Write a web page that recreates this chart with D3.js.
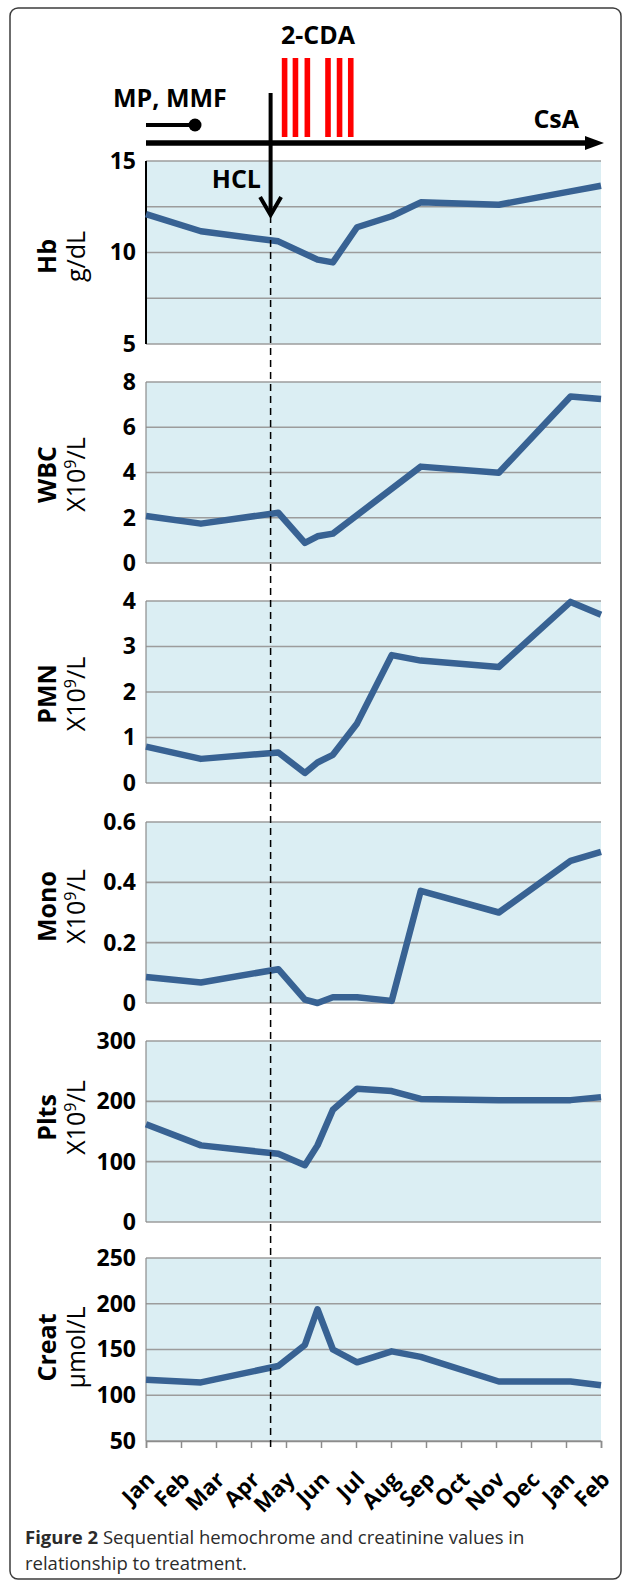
<!DOCTYPE html>
<html>
<head>
<meta charset="utf-8">
<script src="https://cdn.jsdelivr.net/npm/d3@7"></script>
<style>
  body { margin: 0; background: #fff; }
  text { font-family: "Open Sans", sans-serif; }
</style>
</head>
<body>
<div id="chart"></div>
<script>
// month ticks along the bottom (Jan of year 1 .. Feb of year 2)
const months = ["Jan", "Feb", "Mar", "Apr", "May", "Jun", "Jul", "Aug", "Sep", "Oct", "Nov", "Dec", "Jan", "Feb"];

// sampling dates, as months after the first Jan
const sampleMonth = [0, 1.57, 3.78, 4.54, 4.9, 5.34, 6.03, 7.02, 7.85, 10.08, 12.13, 13];

// lab values (null = no value that day)
const hb    = [12.1, 11.16, 10.61, null, 9.61, 9.46, 11.38, 11.98, 12.74, 12.61, 13.34, 13.65];
const wbc   = [2.08, 1.74, 2.22, 0.89, 1.18, 1.30, null, null, 4.26, 3.99, 7.36, 7.25];
const pmn   = [0.80, 0.53, 0.67, 0.22, 0.45, 0.62, 1.31, 2.81, 2.69, 2.55, 3.98, 3.70];
const mono  = [0.086, 0.068, 0.112, 0.011, 0.0, 0.019, 0.019, 0.007, 0.372, 0.30, 0.471, 0.501];
const plts  = [162, 127, 113, 94, 127, 186, 221, 217, 204, 202, 202, 207];
const creat = [117, 114, 132, 155, 194, 150, 136, 148, 142, 115, 115, 111];

const panelNames = ["Hb", "WBC", "PMN", "Mono", "Plts", "Creat"];
const panelUnits = ["g/dL", "X10|9|/L", "X10|9|/L", "X10|9|/L", "X10|9|/L", "µmol/L"];
const panelSeries = [hb, wbc, pmn, mono, plts, creat];
const yDomains = [[5, 15], [0, 8], [0, 4], [0, 0.6], [0, 300], [50, 250]];
const yLabels = [[5, 10, 15], [0, 2, 4, 6, 8], [0, 1, 2, 3, 4], [0, 0.2, 0.4, 0.6], [0, 100, 200, 300], [50, 100, 150, 200, 250]];
const yGrid = [[5, 7.5, 10, 12.5, 15], [0, 2, 4, 6, 8], [0, 1, 2, 3, 4], [0, 0.2, 0.4, 0.6], [0, 100, 200, 300], [50, 100, 150, 200, 250]];

// treatment timeline
const hclMonth = 3.56;
const mpEndMonth = 1.4;
const cdaDoses = [3.96, 4.27, 4.61, 5.20, 5.53, 5.85];

// layout
const svgWidth = 625;
const svgHeight = 1580;
const left = 146, right = 601;
const panelTop = [161, 382, 601, 822, 1041, 1258];
const panelH = [183, 181, 182, 181, 181, 183];
const titleShift = [4, 2, 2, -6, -14, -2];

const lineColor = "#386293";
const bgColor = "#dbeef3";
const gridColor = "#9c9c9c";

const svg = d3.select("#chart")
  .append("svg")
  .attr("width", svgWidth)
  .attr("height", svgHeight);

// frame
svg.append("rect")
  .attr("x", 10).attr("y", 8)
  .attr("width", 611).attr("height", 1571)
  .attr("rx", 8)
  .attr("fill", "none")
  .attr("stroke", "#3c3c3c")
  .attr("stroke-width", 1.5);

const x = d3.scaleLinear().domain([0, 13]).range([left, right]);

panelNames.forEach(function(name, i) {
  const top = panelTop[i];
  const h = panelH[i];
  const y = d3.scaleLinear().domain(yDomains[i]).range([top + h, top]);
  const g = svg.append("g");

  g.append("rect")
    .attr("x", left).attr("y", top)
    .attr("width", right - left).attr("height", h)
    .attr("fill", bgColor);

  g.selectAll(".grid")
    .data(yGrid[i]).enter()
    .append("line")
    .attr("x1", left).attr("x2", right)
    .attr("y1", d => y(d)).attr("y2", d => y(d))
    .attr("stroke", gridColor)
    .attr("stroke-width", 1.6);

  // left axis line: black on Hb, grey on the others
  g.append("line")
    .attr("x1", left).attr("x2", left)
    .attr("y1", top).attr("y2", top + h)
    .attr("stroke", i === 0 ? "#000" : "#8c8c8c")
    .attr("stroke-width", i === 0 ? 2 : 1.2);

  const leftAxis = d3.axisLeft(y)
    .tickValues(yLabels[i])
    .tickSize(0)
    .tickPadding(10)
    .tickFormat(d => String(d));

  const axisG = g.append("g")
    .attr("transform", `translate(${left},0)`)
    .call(leftAxis);
  axisG.select(".domain").remove();
  axisG.selectAll("text")
    .attr("font-family", "'Open Sans', sans-serif")
    .attr("font-size", 23)
    .attr("font-weight", "bold")
    .attr("fill", "#000");

  // axis titles
  const cy = top + h / 2 + titleShift[i];
  g.append("text")
    .attr("transform", `translate(56,${cy}) rotate(-90)`)
    .attr("text-anchor", "middle")
    .attr("font-size", 25)
    .attr("font-weight", "bold")
    .text(name);

  const unit = g.append("text")
    .attr("transform", `translate(85,${cy}) rotate(-90)`)
    .attr("text-anchor", "middle")
    .attr("font-size", 25);
  const parts = panelUnits[i].split("|");
  if (parts.length === 3) {
    unit.append("tspan").text(parts[0]);
    unit.append("tspan").attr("font-size", 16).attr("dy", -9).text(parts[1]);
    unit.append("tspan").attr("dy", 9).text(parts[2]);
  } else {
    unit.text(parts[0]);
  }

  const pts = sampleMonth
    .map((m, k) => ({ m: m, v: panelSeries[i][k] }))
    .filter(d => d.v !== null);

  const line = d3.line()
    .x(d => x(d.m))
    .y(d => y(d.v));

  g.append("path")
    .datum(pts)
    .attr("d", line)
    .attr("fill", "none")
    .attr("stroke", lineColor)
    .attr("stroke-width", 6.5)
    .attr("stroke-linejoin", "round");
});

// bottom axis under Creat
const axisY = panelTop[5] + panelH[5];
const bottomAxis = d3.axisBottom(x)
  .tickValues(d3.range(months.length))
  .tickSize(7)
  .tickFormat("");
const xAxisG = svg.append("g")
  .attr("transform", `translate(0,${axisY})`)
  .call(bottomAxis);
xAxisG.select(".domain").attr("stroke", "#8c8c8c").attr("stroke-width", 1.5);
xAxisG.selectAll(".tick line").attr("stroke", "#8c8c8c").attr("stroke-width", 1.5);

svg.selectAll(".month")
  .data(months).enter()
  .append("text")
  .attr("transform", (d, k) => `translate(${x(k) + 10},${axisY + 40}) rotate(-45)`)
  .attr("text-anchor", "end")
  .attr("font-size", 22)
  .attr("font-weight", "bold")
  .text(d => d);

// treatment timeline
const tlY = 143;
svg.append("line")
  .attr("x1", left).attr("x2", right - 14)
  .attr("y1", tlY).attr("y2", tlY)
  .attr("stroke", "#000").attr("stroke-width", 5.5);
svg.append("path")
  .attr("d", `M${right - 16},${tlY - 7}L${right + 3},${tlY}L${right - 16},${tlY + 7}Z`)
  .attr("fill", "#000");

svg.append("line")
  .attr("x1", left).attr("x2", x(mpEndMonth))
  .attr("y1", 125).attr("y2", 125)
  .attr("stroke", "#000").attr("stroke-width", 4);
svg.append("circle")
  .attr("cx", x(mpEndMonth)).attr("cy", 125)
  .attr("r", 6.5).attr("fill", "#000");

svg.selectAll(".dose")
  .data(cdaDoses).enter()
  .append("rect")
  .attr("x", d => x(d) - 2.8)
  .attr("y", 58)
  .attr("width", 5.6)
  .attr("height", 79)
  .attr("fill", "#ff0000");

svg.append("text")
  .attr("x", 113).attr("y", 107)
  .attr("font-size", 25).attr("font-weight", "bold")
  .text("MP, MMF");
svg.append("text")
  .attr("x", 318).attr("y", 44)
  .attr("text-anchor", "middle")
  .attr("font-size", 25).attr("font-weight", "bold")
  .text("2-CDA");
svg.append("text")
  .attr("x", 579).attr("y", 128)
  .attr("text-anchor", "end")
  .attr("font-size", 25).attr("font-weight", "bold")
  .text("CsA");
svg.append("text")
  .attr("x", 261).attr("y", 188)
  .attr("text-anchor", "end")
  .attr("font-size", 25).attr("font-weight", "bold")
  .text("HCL");

// HCL arrow and dashed marker
const hx = x(hclMonth);
svg.append("line")
  .attr("x1", hx).attr("x2", hx)
  .attr("y1", axisY + 6).attr("y2", 214)
  .attr("stroke", "#000").attr("stroke-width", 1.5)
  .attr("stroke-dasharray", "7,5");
svg.append("line")
  .attr("x1", hx).attr("x2", hx)
  .attr("y1", 93).attr("y2", 212)
  .attr("stroke", "#000").attr("stroke-width", 4);
svg.append("path")
  .attr("d", `M${hx - 10.5},197L${hx},215L${hx + 10.5},197`)
  .attr("fill", "none")
  .attr("stroke", "#000").attr("stroke-width", 4);

// caption
const cap = svg.append("text")
  .attr("x", 25).attr("y", 1544)
  .attr("font-size", 18.5)
  .attr("fill", "#2b2b2b");
cap.append("tspan").attr("font-weight", "bold").text("Figure 2");
cap.append("tspan").text(" Sequential hemochrome and creatinine values in");
svg.append("text")
  .attr("x", 25).attr("y", 1570)
  .attr("font-size", 18.5)
  .attr("fill", "#2b2b2b")
  .text("relationship to treatment.");
</script>
</body>
</html>
